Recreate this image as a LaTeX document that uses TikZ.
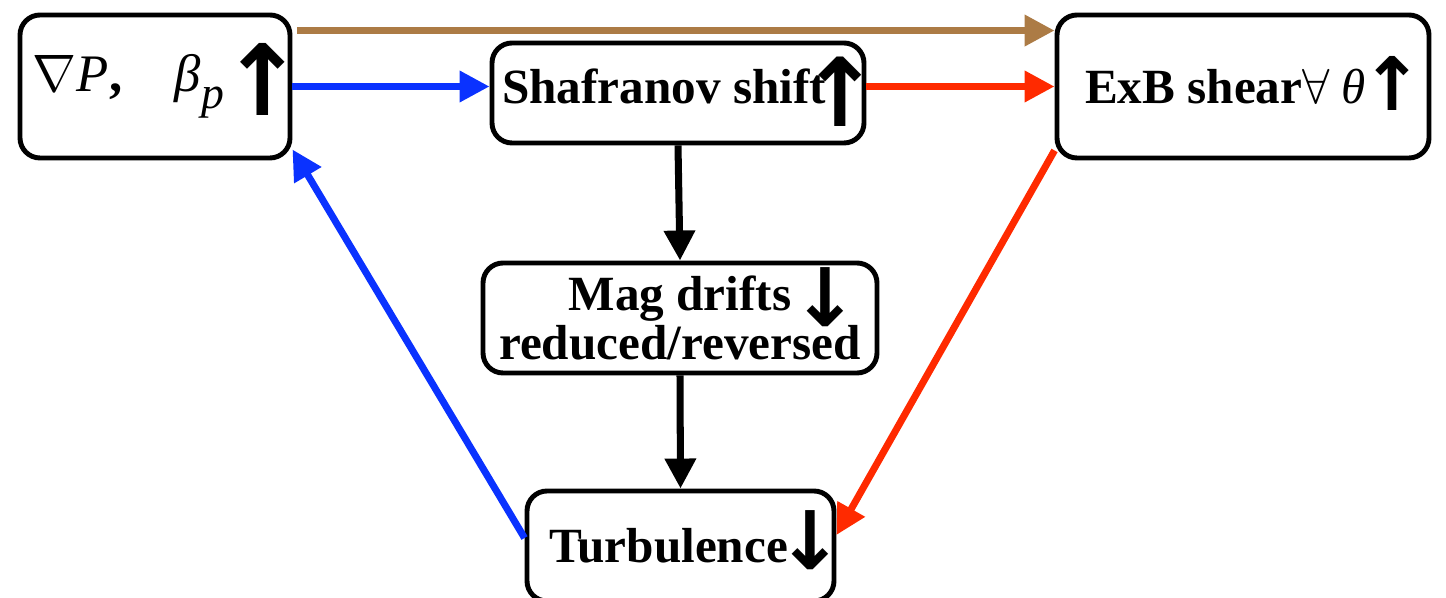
\RequirePackage{fix-cm}
\documentclass[tikz,border=0pt]{standalone}
\usepackage{fontspec}
\setmainfont{Liberation Serif}[BoldFont={Liberation Serif Bold},ItalicFont={Liberation Serif Italic}]
\newfontfamily\arrowfont{DejaVu Sans}
\usetikzlibrary{arrows.meta,positioning}
\definecolor{fbBrown}{HTML}{AC7B45}
\definecolor{fbBlue}{HTML}{0A32FF}
\definecolor{fbRed}{HTML}{FF2A00}
% arrow glyphs inside the boxes: size, drop below baseline
\newcommand{\arrUp}[2]{\makebox[0.28cm]{\smash{\raisebox{#2}{\arrowfont\bfseries\fontsize{#1}{#1}\selectfont ↑}}}}
\newcommand{\arrDown}[2]{\makebox[0.28cm]{\smash{\raisebox{#2}{\arrowfont\bfseries\fontsize{#1}{#1}\selectfont ↓}}}}
\tikzset{
  fbArrow/.style={-{Triangle[length=3mm,width=3mm]}, line width=2pt},
  fbBox/.style={
    draw,
    rounded corners=2mm,
    line width=1.4pt,
    align=center,
    inner sep=0pt,
    font=\bfseries\fontsize{14}{13}\selectfont
  }
}

\begin{document}
\begin{tikzpicture}
  \useasboundingbox (0,0) rectangle (14.46,-5.98);
  \node[fbBox, minimum width=2.70cm, minimum height=1.43cm, font=\fontsize{15}{15}\selectfont] (grad) at (1.55,-0.865) {$\nabla$\textit{P}\textbf{,}\quad\textit{β}\raisebox{-0.7ex}{\textit{\fontsize{13}{13}\selectfont p}}\hspace{0.25cm}\arrUp{28}{-1ex}};
  \node[fbBox, minimum width=3.72cm, minimum height=1.0cm] (shaf) at (6.78,-0.93) {\raisebox{0.6ex}{Shafranov shift\arrUp{27}{-1ex}}};
  \node[fbBox, minimum width=3.72cm, minimum height=1.43cm] (exb) at (12.43,-0.865) {\hspace{0.05cm}ExB shear{\mdseries$\forall$\hspace{0.12cm}\textit{θ}}\hspace{0.12cm}\arrUp{21}{-0.3ex}};
  \node[fbBox, minimum width=3.94cm, minimum height=1.10cm, font=\bfseries\fontsize{14}{14}\selectfont] (mag) at (6.80,-3.18) {Mag drifts\rlap{\hspace{0.2cm}\arrDown{23}{-0.7ex}}\\reduced/reversed};
  \node[fbBox, minimum width=3.07cm, minimum height=1.10cm] (turb) at (6.805,-5.46) {\hspace{0.12cm}Turbulence\hspace{0.08cm}\arrDown{23}{-0.3ex}};

  \draw[fbArrow, fbBrown] ([shift={(0.05,-0.18)}]grad.north east) -- ([yshift=-0.18cm]exb.north west);
  \draw[fbArrow, fbBlue] (grad.east) -- (grad.east -| shaf.west);
  \draw[fbArrow, fbRed] (shaf.east |- grad.east) -- (exb.west |- grad.east);
  \draw[fbArrow] (shaf.south) -- (mag.north);
  \draw[fbArrow] (mag.south) -- (turb.north);
  \draw[fbArrow, fbRed] ([yshift=1mm]exb.south west) -- ([yshift=1.1mm]turb.east);
  \draw[fbArrow, fbBlue] ([yshift=0.8mm]turb.west) -- ([yshift=1.1mm]grad.south east);
\end{tikzpicture}
\end{document}
